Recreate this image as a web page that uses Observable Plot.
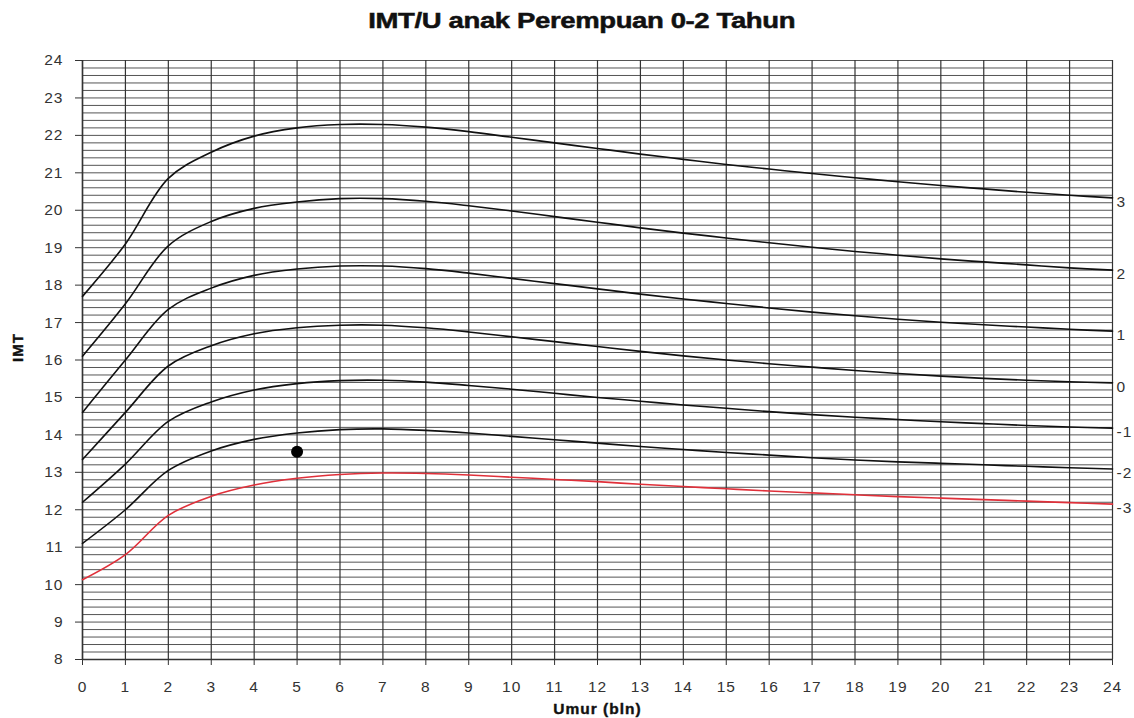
<!DOCTYPE html>
<html>
<head>
<meta charset="utf-8">
<script src="https://cdn.jsdelivr.net/npm/d3@7"></script>
<script src="https://cdn.jsdelivr.net/npm/@observablehq/plot@0.6"></script>
<style>
  html, body { margin: 0; padding: 0; background: #fff; }
  #title { height: 40px; line-height: 42px; text-align: center; font-family: "Liberation Sans", Arial, sans-serif; font-weight: bold; font-size: 22px; color: #111; box-sizing: border-box; padding-left: 30px; }
  #title span { display: inline-block; transform: scaleX(1.25); -webkit-text-stroke: 0.5px #111; letter-spacing: -0.3px; }
  #chart svg { display: block; }
</style>
</head>
<body>
<div id="title"><span>IMT/U anak Perempuan 0-2 Tahun</span></div>
<div id="chart"></div>
<script>
const months = [0,1,2,3,4,5,6,7,8,9,10,11,12,13,14,15,16,17,18,19,20,21,22,23,24];
const sd3  = [17.70,19.10,20.85,21.55,21.98,22.20,22.29,22.29,22.22,22.10,21.95,21.80,21.65,21.50,21.36,21.22,21.10,20.98,20.87,20.76,20.66,20.57,20.48,20.40,20.33];
const sd2  = [16.10,17.50,19.05,19.70,20.05,20.22,20.31,20.31,20.24,20.12,19.98,19.83,19.68,19.53,19.39,19.26,19.13,19.01,18.90,18.80,18.70,18.62,18.54,18.46,18.40];
const sd1  = [14.60,16.00,17.35,17.92,18.26,18.43,18.51,18.51,18.44,18.32,18.18,18.04,17.90,17.76,17.63,17.51,17.39,17.28,17.18,17.09,17.01,16.94,16.88,16.82,16.77];
const sd0  = [13.34,14.60,15.84,16.38,16.70,16.86,16.93,16.93,16.86,16.75,16.62,16.49,16.36,16.23,16.11,16.00,15.90,15.81,15.72,15.64,15.57,15.51,15.46,15.42,15.39];
const sdm1 = [12.20,13.22,14.36,14.88,15.20,15.37,15.45,15.46,15.41,15.32,15.22,15.11,15.00,14.90,14.80,14.71,14.62,14.54,14.47,14.41,14.35,14.30,14.25,14.21,14.18];
const sdm2 = [11.10,12.00,13.05,13.57,13.88,14.05,14.14,14.16,14.12,14.05,13.96,13.87,13.78,13.69,13.61,13.53,13.46,13.39,13.33,13.28,13.24,13.20,13.16,13.12,13.09];
const sdm3 = [10.13,10.80,11.85,12.36,12.66,12.84,12.94,12.98,12.97,12.93,12.87,12.81,12.75,12.68,12.62,12.56,12.50,12.45,12.40,12.35,12.31,12.27,12.23,12.19,12.15];
const seriesNames = ["3","2","1","0","-1","-2","-3"];
const seriesValues = [sd3, sd2, sd1, sd0, sdm1, sdm2, sdm3];
const seriesColors = ["#111","#111","#111","#111","#111","#111","#e0303a"];
const pointX = [5];
const pointY = [13.55];
const xTicks = [0,1,2,3,4,5,6,7,8,9,10,11,12,13,14,15,16,17,18,19,20,21,22,23,24];
const yTicks = [8,9,10,11,12,13,14,15,16,17,18,19,20,21,22,23,24];
const yMinor = d3.range(40, 121).map(d => d / 5);

const rows = [];
seriesNames.forEach((name, i) => {
  months.forEach((m, j) => rows.push({series: name, month: m, value: seriesValues[i][j], color: seriesColors[i]}));
});
const ends = seriesNames.map((name, i) => ({series: name, month: months[months.length - 1], value: seriesValues[i][months.length - 1]}));
const points = pointX.map((x, i) => ({x, y: pointY[i]}));

const chart = Plot.plot({
  width: 1134,
  height: 678,
  marginLeft: 82,
  marginRight: 22,
  marginTop: 20,
  marginBottom: 59,
  style: {fontFamily: "'Liberation Sans', Arial, sans-serif", fontSize: "15.5px", color: "#333", background: "#fff", letterSpacing: "1px"},
  x: {domain: [0, 24], ticks: xTicks, tickSize: 6, tickPadding: 15, label: null},
  y: {domain: [8, 24], ticks: yTicks, tickSize: 7, tickPadding: 12, label: null},
  marks: [
    Plot.gridY(yMinor, {stroke: "#555", strokeOpacity: 1, strokeWidth: 1}),
    Plot.gridX(xTicks, {stroke: "#333", strokeOpacity: 1, strokeWidth: 1.2}),
    Plot.ruleX([0], {stroke: "#333", strokeWidth: 1.5}),
    Plot.ruleY([8], {stroke: "#333", strokeWidth: 1.5}),
    Plot.line(rows, {x: "month", y: "value", z: "series", stroke: "color", strokeWidth: 1.6, curve: "catmull-rom"}),
    Plot.text(ends, {x: "month", y: "value", text: "series", textAnchor: "start", dx: 4, dy: 4, fontSize: 15.5, fill: "#333"}),
    Plot.dot(points, {x: "x", y: "y", r: 6, fill: "#000", stroke: "none"}),
    Plot.text(["IMT"], {frameAnchor: "left", dx: -64, dy: 2, rotate: -90, fontWeight: "bold", fontSize: 15, fill: "#111", stroke: "#111", strokeWidth: 0.4}),
    Plot.text(["Umur (bln)"], {frameAnchor: "bottom", dy: 54, dx: 0, fontWeight: "bold", fontSize: 15.5, fill: "#111", stroke: "#111", strokeWidth: 0.4})
  ]
});
document.getElementById("chart").appendChild(chart);
</script>
</body>
</html>
